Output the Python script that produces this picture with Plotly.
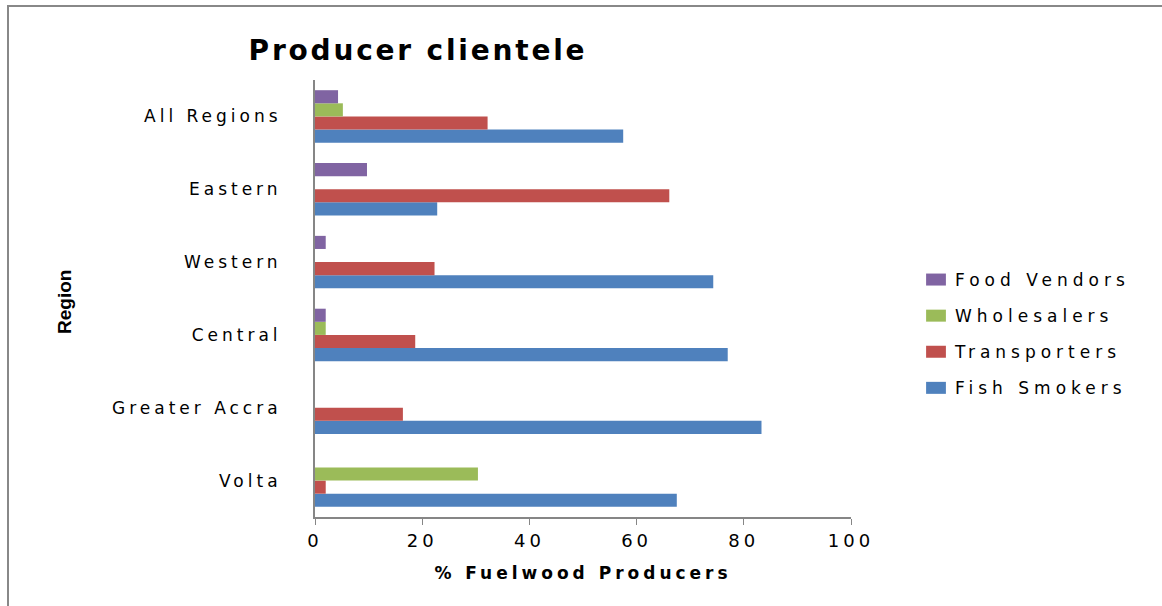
import plotly.graph_objects as go

regions = ["Volta", "Greater Accra", "Central", "Western", "Eastern", "All Regions"]
fish_smokers = [67.5, 83.3, 77.0, 74.3, 22.8, 57.5]
transporters = [2.0, 16.4, 18.7, 22.3, 66.1, 32.2]
wholesalers = [30.4, 0, 2.0, 0, 0, 5.2]
food_vendors = [0, 0, 2.0, 2.0, 9.7, 4.3]

series = [
    ("Fish Smokers", fish_smokers, "#4F81BD", 4),
    ("Transporters", transporters, "#C0504D", 3),
    ("Wholesalers", wholesalers, "#9BBB59", 2),
    ("Food Vendors", food_vendors, "#8064A2", 1),
]

FONT = "DejaVu Sans"
L, R, T, B = 315, 851, 80, 517
PW, PH = R - L, B - T

fig = go.Figure()
for name, vals, col, rank in series:
    fig.add_trace(go.Bar(
        x=vals, y=regions, name=name, orientation="h",
        marker=dict(color=col, line=dict(width=0)),
        legendgroup=name, legendrank=rank,
    ))

fig.update_layout(
    width=1162, height=606,
    margin=dict(l=L, r=1162 - R, t=T, b=606 - B),
    paper_bgcolor="white", plot_bgcolor="white",
    barmode="group", bargap=0.28, bargroupgap=0,
    font=dict(family=FONT, size=17, color="black"),
    title=dict(text="<b>Producer clientele</b>", x=418 / 1162, xanchor="center",
               y=1 - 50 / 606, yanchor="middle",
               font=dict(family=FONT, size=28, color="black")),
    legend=dict(traceorder="grouped", x=(915 - L) / PW, xanchor="left",
                y=(B - 334) / PH, yanchor="middle", tracegroupgap=11,
                itemwidth=30, font=dict(family=FONT, size=17)),
    xaxis=dict(range=[0, 100], dtick=20, showgrid=False, zeroline=False,
               showline=True, linecolor="#868686", linewidth=2,
               ticks="outside", ticklen=6, tickcolor="#868686",
               tickfont=dict(size=18),
               title=dict(text="<b>% Fuelwood Producers</b>", standoff=18,
                          font=dict(family=FONT, size=17))),
    yaxis=dict(categoryorder="array", categoryarray=regions,
               showgrid=False, zeroline=False,
               showline=True, linecolor="#868686", linewidth=2,
               ticks="", ticklabelstandoff=28,
               tickfont=dict(size=17)),
    annotations=[dict(text="<b>Region</b>", xref="paper", yref="paper",
                      x=(64 - L) / PW, y=(B - 302) / PH, showarrow=False,
                      textangle=-90, xanchor="center", yanchor="middle",
                      font=dict(family="Liberation Sans", size=19, color="black"))],
    shapes=[dict(type="rect", xref="paper", yref="paper",
                 x0=(8 - L) / PW, x1=(1175 - L) / PW, y0=-(620 - B) / PH, y1=1 + (T - 6) / PH,
                 line=dict(color="#888888", width=2))],
)

css = """
var st = document.createElement('style');
st.innerHTML = '.ytick text{letter-spacing:4px}' +
  '.xtick text{letter-spacing:4px}' +
  '.legendtext{letter-spacing:5px}' +
  '.legend .scrollbox{clip-path:none !important}' +
  '.legendpoints path{transform:translate(21px,0px) scale(1.65,1)}' +
  '.gtitle{letter-spacing:2.8px}' +
  '.xtitle{letter-spacing:4px}';
document.head.appendChild(st);
"""
fig.write_html("out.html", post_script=css)
